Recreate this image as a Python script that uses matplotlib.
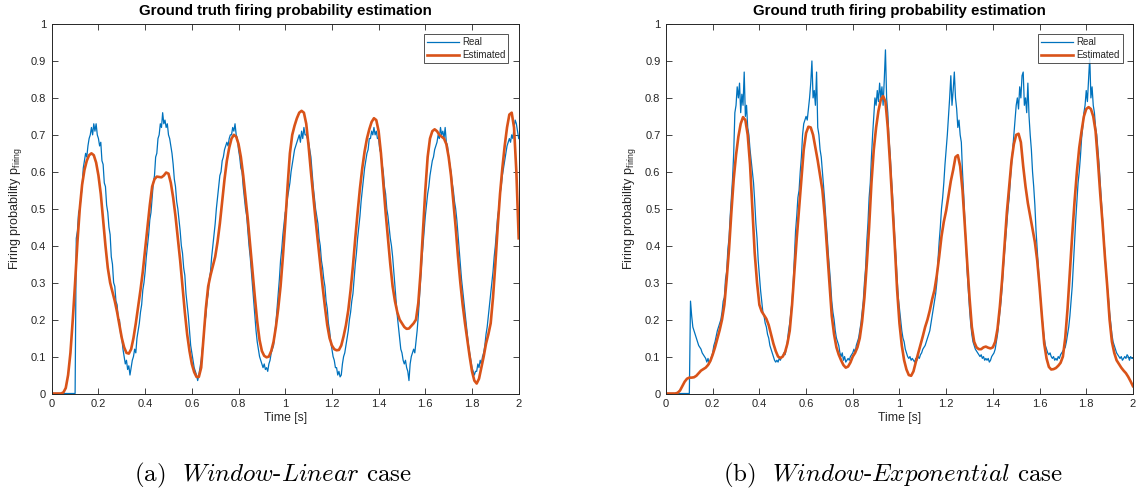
import numpy as np
import matplotlib
matplotlib.use("Agg")
import matplotlib.pyplot as plt
from matplotlib.ticker import FuncFormatter

plt.rcParams['font.family'] = ['Liberation Sans', 'DejaVu Sans']
plt.rcParams['mathtext.fontset'] = 'cm'

# ---------------- data ----------------
# time grids (s)
t_real = np.linspace(0, 2, 401)   # 5 ms sampling of the "Real" trace
t_est = np.linspace(0, 2, 201)    # 10 ms sampling of the "Estimated" trace

real_linear = [
    0, 0, 0, 0, 0, 0, 0, 0, 0, 0, 0, 0, 0, 0, 0, 0, 0, 0, 0, 0,
    0, 0.42, 0.44, 0.49, 0.50, 0.53, 0.56, 0.61, 0.63, 0.65, 0.64, 0.67, 0.69, 0.70, 0.72, 0.70, 0.73, 0.71, 0.73, 0.70,
    0.69, 0.67, 0.68, 0.63, 0.62, 0.57, 0.56, 0.51, 0.49, 0.45, 0.43, 0.37, 0.35, 0.30, 0.29, 0.25, 0.24, 0.20, 0.20, 0.16,
    0.15, 0.12, 0.10, 0.08, 0.09, 0.065, 0.075, 0.05, 0.07, 0.09, 0.10, 0.12, 0.11, 0.15, 0.17, 0.19, 0.22, 0.24, 0.28, 0.30,
    0.33, 0.37, 0.40, 0.43, 0.47, 0.49, 0.53, 0.57, 0.59, 0.64, 0.65, 0.69, 0.70, 0.73, 0.72, 0.76, 0.73, 0.74, 0.72, 0.73,
    0.70, 0.69, 0.67, 0.65, 0.62, 0.58, 0.56, 0.52, 0.50, 0.47, 0.44, 0.40, 0.38, 0.34, 0.32, 0.27, 0.24, 0.21, 0.17, 0.13,
    0.11, 0.09, 0.07, 0.06, 0.05, 0.035, 0.05, 0.07, 0.09, 0.12, 0.15, 0.19, 0.21, 0.25, 0.27, 0.31, 0.33, 0.37, 0.40, 0.43,
    0.46, 0.50, 0.53, 0.56, 0.59, 0.60, 0.63, 0.64, 0.66, 0.67, 0.68, 0.67, 0.69, 0.70, 0.70, 0.72, 0.71, 0.73, 0.70, 0.69,
    0.66, 0.64, 0.61, 0.60, 0.56, 0.53, 0.50, 0.48, 0.44, 0.40, 0.37, 0.33, 0.29, 0.25, 0.21, 0.17, 0.14, 0.12, 0.10, 0.09,
    0.08, 0.07, 0.08, 0.065, 0.07, 0.06, 0.08, 0.09, 0.11, 0.12, 0.13, 0.16, 0.19, 0.23, 0.27, 0.31, 0.36, 0.39, 0.43, 0.46,
    0.49, 0.50, 0.53, 0.55, 0.57, 0.60, 0.62, 0.64, 0.66, 0.67, 0.68, 0.69, 0.70, 0.68, 0.71, 0.69, 0.72, 0.70, 0.70, 0.69,
    0.68, 0.66, 0.64, 0.60, 0.56, 0.53, 0.50, 0.48, 0.46, 0.42, 0.40, 0.36, 0.34, 0.31, 0.29, 0.25, 0.23, 0.19, 0.17, 0.14,
    0.12, 0.10, 0.09, 0.07, 0.07, 0.05, 0.06, 0.045, 0.05, 0.08, 0.10, 0.11, 0.13, 0.15, 0.17, 0.20, 0.22, 0.25, 0.27, 0.31,
    0.35, 0.38, 0.42, 0.45, 0.48, 0.52, 0.55, 0.58, 0.61, 0.63, 0.65, 0.66, 0.69, 0.69, 0.71, 0.70, 0.72, 0.70, 0.71, 0.69,
    0.69, 0.66, 0.65, 0.62, 0.60, 0.56, 0.54, 0.50, 0.48, 0.45, 0.42, 0.40, 0.37, 0.33, 0.29, 0.25, 0.21, 0.18, 0.15, 0.12,
    0.11, 0.09, 0.08, 0.09, 0.07, 0.06, 0.035, 0.08, 0.10, 0.11, 0.12, 0.11, 0.14, 0.17, 0.21, 0.26, 0.31, 0.36, 0.40, 0.44,
    0.48, 0.51, 0.54, 0.56, 0.59, 0.61, 0.63, 0.64, 0.66, 0.67, 0.68, 0.70, 0.69, 0.72, 0.70, 0.71, 0.69, 0.72, 0.68, 0.67,
    0.64, 0.62, 0.60, 0.57, 0.55, 0.52, 0.50, 0.47, 0.43, 0.39, 0.35, 0.31, 0.28, 0.25, 0.22, 0.19, 0.16, 0.13, 0.11, 0.09,
    0.07, 0.06, 0.05, 0.06, 0.06, 0.08, 0.07, 0.09, 0.08, 0.10, 0.11, 0.13, 0.16, 0.18, 0.21, 0.24, 0.27, 0.30, 0.33, 0.37,
    0.40, 0.44, 0.48, 0.50, 0.54, 0.56, 0.59, 0.61, 0.63, 0.65, 0.67, 0.68, 0.69, 0.68, 0.70, 0.69, 0.72, 0.74, 0.73, 0.71,
    0.69,
]

est_linear = [
    0, 0, 0, 0, 0, 0.003, 0.015, 0.05, 0.11, 0.20,
    0.30, 0.41, 0.50, 0.565, 0.605, 0.63, 0.645, 0.65, 0.645, 0.625,
    0.59, 0.54, 0.47, 0.40, 0.34, 0.30, 0.275, 0.25, 0.22, 0.185,
    0.15, 0.125, 0.11, 0.108, 0.12, 0.15, 0.19, 0.235, 0.28, 0.33,
    0.39, 0.45, 0.51, 0.56, 0.58, 0.587, 0.586, 0.585, 0.59, 0.598,
    0.595, 0.57, 0.53, 0.48, 0.42, 0.36, 0.29, 0.22, 0.16, 0.115,
    0.08, 0.058, 0.045, 0.045, 0.07, 0.15, 0.23, 0.29, 0.32, 0.345,
    0.37, 0.41, 0.46, 0.52, 0.58, 0.63, 0.665, 0.69, 0.70, 0.695,
    0.675, 0.64, 0.59, 0.53, 0.47, 0.40, 0.33, 0.26, 0.195, 0.145,
    0.115, 0.102, 0.098, 0.10, 0.115, 0.14, 0.18, 0.23, 0.29, 0.37,
    0.46, 0.56, 0.65, 0.70, 0.725, 0.745, 0.76, 0.765, 0.76, 0.73,
    0.67, 0.60, 0.535, 0.47, 0.41, 0.35, 0.29, 0.235, 0.185, 0.15,
    0.13, 0.12, 0.117, 0.118, 0.13, 0.155, 0.185, 0.225, 0.28, 0.345,
    0.42, 0.49, 0.555, 0.61, 0.655, 0.69, 0.715, 0.735, 0.745, 0.74,
    0.71, 0.65, 0.57, 0.49, 0.42, 0.35, 0.29, 0.25, 0.22, 0.20,
    0.19, 0.18, 0.175, 0.176, 0.183, 0.19, 0.20, 0.245, 0.33, 0.44,
    0.55, 0.64, 0.69, 0.71, 0.715, 0.71, 0.70, 0.695, 0.69, 0.675,
    0.64, 0.59, 0.52, 0.45, 0.37, 0.30, 0.24, 0.19, 0.145, 0.10,
    0.06, 0.035, 0.027, 0.04, 0.07, 0.10, 0.135, 0.16, 0.19, 0.26,
    0.35, 0.45, 0.54, 0.61, 0.67, 0.72, 0.755, 0.76, 0.72, 0.60,
    0.42,
]

real_expo = [
    0, 0, 0, 0, 0, 0, 0, 0, 0, 0, 0, 0, 0, 0, 0, 0, 0, 0, 0, 0,
    0, 0.25, 0.21, 0.18, 0.17, 0.16, 0.15, 0.14, 0.13, 0.125, 0.12, 0.11, 0.105, 0.10, 0.095, 0.085, 0.095, 0.08, 0.09, 0.10,
    0.11, 0.13, 0.14, 0.155, 0.17, 0.18, 0.19, 0.20, 0.22, 0.25, 0.26, 0.31, 0.33, 0.39, 0.42, 0.48, 0.53, 0.58, 0.65, 0.76,
    0.78, 0.83, 0.80, 0.84, 0.76, 0.81, 0.78, 0.87, 0.75, 0.78, 0.72, 0.70, 0.66, 0.63, 0.60, 0.57, 0.52, 0.46, 0.42, 0.36,
    0.32, 0.28, 0.25, 0.22, 0.21, 0.19, 0.18, 0.16, 0.15, 0.13, 0.12, 0.11, 0.10, 0.09, 0.085, 0.09, 0.085, 0.095, 0.09, 0.10,
    0.10, 0.11, 0.105, 0.12, 0.14, 0.17, 0.19, 0.22, 0.25, 0.30, 0.37, 0.44, 0.48, 0.53, 0.55, 0.60, 0.64, 0.70, 0.73, 0.74,
    0.75, 0.74, 0.77, 0.80, 0.84, 0.90, 0.80, 0.82, 0.78, 0.87, 0.72, 0.70, 0.66, 0.64, 0.60, 0.56, 0.52, 0.47, 0.43, 0.38,
    0.34, 0.30, 0.25, 0.22, 0.20, 0.17, 0.15, 0.14, 0.13, 0.11, 0.10, 0.11, 0.09, 0.10, 0.085, 0.09, 0.095, 0.09, 0.10, 0.105,
    0.11, 0.12, 0.11, 0.13, 0.14, 0.15, 0.17, 0.19, 0.22, 0.25, 0.30, 0.34, 0.41, 0.46, 0.53, 0.57, 0.64, 0.70, 0.75, 0.80,
    0.78, 0.82, 0.79, 0.84, 0.80, 0.83, 0.78, 0.85, 0.93, 0.80, 0.76, 0.69, 0.65, 0.59, 0.54, 0.48, 0.42, 0.37, 0.31, 0.26,
    0.23, 0.20, 0.17, 0.15, 0.14, 0.12, 0.11, 0.10, 0.095, 0.10, 0.09, 0.095, 0.09, 0.085, 0.095, 0.09, 0.10, 0.095, 0.105, 0.11,
    0.12, 0.125, 0.13, 0.14, 0.15, 0.16, 0.17, 0.19, 0.21, 0.23, 0.25, 0.27, 0.30, 0.36, 0.41, 0.45, 0.50, 0.53, 0.57, 0.62,
    0.66, 0.70, 0.75, 0.80, 0.86, 0.78, 0.82, 0.87, 0.80, 0.77, 0.72, 0.74, 0.70, 0.68, 0.60, 0.54, 0.47, 0.40, 0.33, 0.28,
    0.23, 0.19, 0.16, 0.14, 0.13, 0.12, 0.115, 0.11, 0.105, 0.10, 0.105, 0.095, 0.10, 0.09, 0.095, 0.09, 0.095, 0.085, 0.09, 0.10,
    0.105, 0.11, 0.12, 0.14, 0.16, 0.19, 0.22, 0.25, 0.29, 0.34, 0.38, 0.42, 0.46, 0.50, 0.53, 0.58, 0.62, 0.66, 0.70, 0.74,
    0.78, 0.80, 0.77, 0.83, 0.80, 0.86, 0.87, 0.78, 0.80, 0.76, 0.84, 0.75, 0.70, 0.66, 0.60, 0.56, 0.51, 0.44, 0.39, 0.34,
    0.29, 0.25, 0.21, 0.18, 0.15, 0.13, 0.12, 0.11, 0.105, 0.11, 0.10, 0.095, 0.10, 0.09, 0.095, 0.09, 0.10, 0.095, 0.105, 0.11,
    0.115, 0.12, 0.125, 0.14, 0.16, 0.18, 0.21, 0.25, 0.29, 0.35, 0.41, 0.47, 0.52, 0.57, 0.60, 0.64, 0.69, 0.72, 0.76, 0.78,
    0.82, 0.79, 0.85, 0.91, 0.80, 0.83, 0.78, 0.76, 0.72, 0.70, 0.66, 0.62, 0.57, 0.52, 0.47, 0.42, 0.38, 0.33, 0.29, 0.26,
    0.22, 0.19, 0.16, 0.14, 0.13, 0.12, 0.11, 0.105, 0.10, 0.095, 0.10, 0.09, 0.095, 0.10, 0.095, 0.105, 0.10, 0.09, 0.10, 0.095,
    0.095,
]

est_expo = [
    0, 0, 0, 0, 0, 0.002, 0.008, 0.02, 0.032, 0.04,
    0.043, 0.043, 0.044, 0.048, 0.055, 0.062, 0.066, 0.07, 0.077, 0.088,
    0.105, 0.125, 0.148, 0.172, 0.20, 0.24, 0.31, 0.39, 0.49, 0.58,
    0.645, 0.695, 0.73, 0.748, 0.74, 0.70, 0.62, 0.50, 0.38, 0.30,
    0.24, 0.222, 0.212, 0.202, 0.185, 0.16, 0.135, 0.115, 0.10, 0.096,
    0.10, 0.112, 0.135, 0.17, 0.24, 0.33, 0.42, 0.50, 0.58, 0.66,
    0.705, 0.722, 0.72, 0.70, 0.665, 0.63, 0.59, 0.55, 0.48, 0.39,
    0.30, 0.21, 0.16, 0.125, 0.105, 0.09, 0.077, 0.07, 0.073, 0.084,
    0.10, 0.11, 0.125, 0.15, 0.195, 0.26, 0.35, 0.45, 0.57, 0.66,
    0.72, 0.765, 0.795, 0.805, 0.79, 0.72, 0.62, 0.51, 0.40, 0.28,
    0.19, 0.13, 0.09, 0.065, 0.05, 0.048, 0.06, 0.085, 0.108, 0.13,
    0.155, 0.18, 0.20, 0.225, 0.255, 0.28, 0.32, 0.37, 0.425, 0.465,
    0.495, 0.535, 0.575, 0.605, 0.64, 0.645, 0.615, 0.55, 0.455, 0.355,
    0.26, 0.18, 0.14, 0.125, 0.12, 0.12, 0.125, 0.127, 0.124, 0.122,
    0.125, 0.14, 0.175, 0.235, 0.31, 0.40, 0.49, 0.56, 0.63, 0.675,
    0.70, 0.703, 0.68, 0.615, 0.56, 0.515, 0.48, 0.445, 0.41, 0.36,
    0.29, 0.21, 0.135, 0.095, 0.072, 0.065, 0.066, 0.069, 0.075, 0.083,
    0.10, 0.15, 0.23, 0.33, 0.43, 0.52, 0.60, 0.665, 0.71, 0.75,
    0.77, 0.775, 0.77, 0.75, 0.71, 0.63, 0.54, 0.46, 0.37, 0.29,
    0.20, 0.14, 0.11, 0.09, 0.08, 0.07, 0.062, 0.055, 0.045, 0.033,
    0.02,
]

titles = ["Ground truth firing probability estimation",
          "Ground truth firing probability estimation"]
captions = [r"(a)  $\mathit{Window}$-$\mathit{Linear}$ case",
            r"(b)  $\mathit{Window}$-$\mathit{Exponential}$ case"]
legend_labels = ["Real", "Estimated"]
x_ticks = [0, 0.2, 0.4, 0.6, 0.8, 1.0, 1.2, 1.4, 1.6, 1.8, 2.0]
y_ticks = [0, 0.1, 0.2, 0.3, 0.4, 0.5, 0.6, 0.7, 0.8, 0.9, 1.0]

# ---------------- figure ----------------
BLUE = "#0072BD"
ORANGE = "#D95319"
DARK = "#262626"

fig = plt.figure(figsize=(11.4, 4.93), dpi=100)
axes_rects = [[0.0454, 0.2018, 0.4096, 0.7495],
              [0.5842, 0.2018, 0.4096, 0.7495]]
series = [(real_linear, est_linear), (real_expo, est_expo)]
fmt = FuncFormatter(lambda v, p: "%g" % round(v, 2))

for i, rect in enumerate(axes_rects):
    ax = fig.add_axes(rect)
    r, e = series[i]
    ax.plot(t_real, r, color=BLUE, lw=0.9, label=legend_labels[0])
    ax.plot(t_est, e, color=ORANGE, lw=1.9, label=legend_labels[1])
    ax.set_xlim(0, 2)
    ax.set_ylim(0, 1)
    ax.set_xticks(x_ticks)
    ax.set_yticks(y_ticks)
    ax.xaxis.set_major_formatter(fmt)
    ax.yaxis.set_major_formatter(fmt)
    ax.tick_params(direction='in', top=True, right=True, length=4, width=0.6,
                   colors=DARK, labelsize=8, pad=4)
    for s in ax.spines.values():
        s.set_color(DARK)
        s.set_linewidth(0.7)
    ax.set_title(titles[i], fontsize=10.8, fontweight='bold', color='black', pad=6.5)
    ax.set_xlabel("Time [s]", fontsize=8.8, color=DARK)
    ax.xaxis.set_label_coords(0.5, -0.05)
    ax.set_ylabel(r"Firing probability p$_{\mathregular{firing}}$", fontsize=9, color=DARK)
    ax.yaxis.set_label_coords(-0.057, 0.5)
    leg = ax.legend(loc='upper right', fontsize=7, frameon=True, fancybox=False,
                    handlelength=3.3, borderaxespad=1.05, borderpad=0.3,
                    labelspacing=0.3, handletextpad=0.35)
    leg.get_frame().set_edgecolor(DARK)
    leg.get_frame().set_linewidth(0.7)
    for txt in leg.get_texts():
        txt.set_color(DARK)

fig.text(0.2395, 0.035, captions[0], family='cmr10', fontsize=18, ha='center', va='center')
fig.text(0.783, 0.035, captions[1], family='cmr10', fontsize=18, ha='center', va='center')

fig.savefig("out.png", dpi=100)
